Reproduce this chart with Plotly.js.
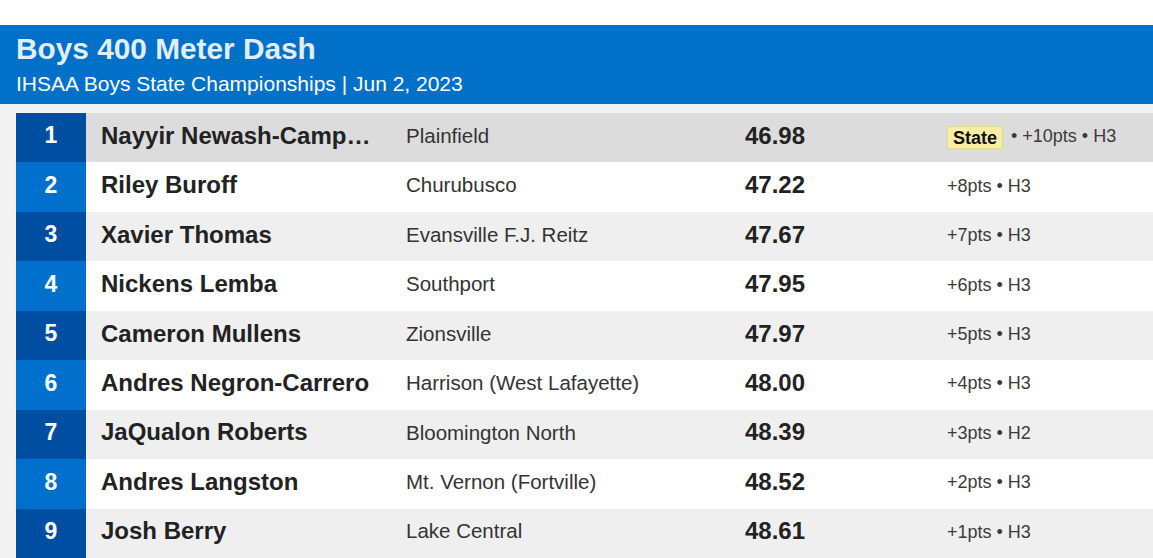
<!DOCTYPE html>
<html>
<head>
<meta charset="utf-8">
<script src="https://cdn.plot.ly/plotly-3.0.1.min.js"></script>
<style>html,body{margin:0;padding:0;background:#f3f3f3;}#chart{width:1153px;height:558px;}</style>
</head>
<body>
<div id="chart"></div>
<script>
// ---- data ----
const ranks = ["1","2","3","4","5","6","7","8","9"];
const athletes = ["Nayyir Newash-Camp…","Riley Buroff","Xavier Thomas","Nickens Lemba","Cameron Mullens","Andres Negron-Carrero","JaQualon Roberts","Andres Langston","Josh Berry"];
const schools = ["Plainfield","Churubusco","Evansville F.J. Reitz","Southport","Zionsville","Harrison (West Lafayette)","Bloomington North","Mt. Vernon (Fortville)","Lake Central"];
const times = ["46.98","47.22","47.67","47.95","47.97","48.00","48.39","48.52","48.61"];
const points = [10,8,7,6,5,4,3,2,1];
const heats = ["H3","H3","H3","H3","H3","H3","H2","H3","H3"];
const badges = ["State","","","","","","","",""];
const titleText = "Boys 400 Meter Dash";
const subtitleText = "IHSAA Boys State Championships | Jun 2, 2023";

// ---- layout constants ----
const W = 1153, H = 558, ML = 16, MT = 113;
const PW = W - ML, PH = H - MT;
const FONT = "Arial, 'Liberation Sans', sans-serif";
const colRankW = 70, colName = 85, colSchool = 390, colTime = 729, colPts = 931, badgeOffset = 64;
const py = Y => (H - Y) / PH;      // pixel row -> paper y
const px = X => (X - ML) / PW;     // pixel col -> paper x

const rowColors = ranks.map((r, i) => i === 0 ? "#dcdcdc" : (i % 2 === 0 ? "#efefef" : "#ffffff"));
const rankColors = ranks.map((r, i) => i % 2 === 0 ? "#004ea1" : "#0070cc");
const ptsText = ranks.map((r, i) => (badges[i] ? "• " : "") + "+" + points[i] + "pts • " + heats[i]);
const ptsX = ranks.map((r, i) => colPts + (badges[i] ? badgeOffset : 0));

const traces = [
  {type:"bar", orientation:"h", y:ranks, x:ranks.map(() => PW), base:0, width:1,
   marker:{color:rowColors, line:{width:0}}, hoverinfo:"skip", showlegend:false},
  {type:"bar", orientation:"h", y:ranks, x:ranks.map(() => colRankW), base:0, width:1,
   marker:{color:rankColors, line:{width:0}}, hoverinfo:"skip", showlegend:false},
  {type:"scatter", mode:"text", y:ranks, x:ranks.map(() => colRankW/2), text:ranks,
   textposition:"middle center", textfont:{family:FONT, size:23, color:"#ffffff", weight:"bold"}, hoverinfo:"skip", showlegend:false},
  {type:"scatter", mode:"text", y:ranks, x:ranks.map(() => colName), text:athletes,
   textposition:"middle right", textfont:{family:FONT, size:24, color:"#222222", weight:"bold"}, hoverinfo:"skip", showlegend:false},
  {type:"scatter", mode:"text", y:ranks, x:ranks.map(() => colSchool), text:schools,
   textposition:"middle right", textfont:{family:FONT, size:20.5, color:"#333333"}, hoverinfo:"skip", showlegend:false},
  {type:"scatter", mode:"text", y:ranks, x:ranks.map(() => colTime), text:times,
   textposition:"middle right", textfont:{family:FONT, size:24, color:"#222222", weight:"bold"}, hoverinfo:"skip", showlegend:false},
  {type:"scatter", mode:"text", y:ranks, x:ptsX, text:ptsText,
   textposition:"middle right", textfont:{family:FONT, size:18, color:"#3a3a3a"}, hoverinfo:"skip", showlegend:false}
];

const badgeAnns = [];
badges.forEach((b, i) => {
  if (b) badgeAnns.push({xref:"x", yref:"y", x:colPts, y:ranks.indexOf(ranks[i]), xanchor:"left", yanchor:"middle",
    text:"<b>" + b + "</b>", showarrow:false, bgcolor:"#f6eea6", bordercolor:"#e3d88a", borderwidth:1,
    borderpad:0, width:54, height:21, font:{family:FONT, size:18, color:"#111111"}});
});

const layout = {
  width:W, height:H,
  margin:{l:ML, r:0, t:MT, b:0, pad:0},
  paper_bgcolor:"#f3f3f3", plot_bgcolor:"#f3f3f3",
  barmode:"overlay", bargap:0,
  xaxis:{range:[0, PW], visible:false, fixedrange:true},
  yaxis:{type:"category", categoryarray:ranks, range:[8.5, -0.5], visible:false, fixedrange:true},
  shapes:[
    {type:"rect", xref:"paper", yref:"paper", x0:px(0), x1:px(W), y0:py(25), y1:py(0), fillcolor:"#ffffff", line:{width:0}, layer:"below"},
    {type:"rect", xref:"paper", yref:"paper", x0:px(0), x1:px(W), y0:py(104), y1:py(25), fillcolor:"#0070c9", line:{width:0}, layer:"below"}
  ],
  annotations:[
    {xref:"paper", yref:"paper", x:px(14), y:py(49), xanchor:"left", yanchor:"middle", showarrow:false,
     text:"<b>" + titleText + "</b>", font:{family:FONT, size:29.8, color:"#e2eefb"}},
    {xref:"paper", yref:"paper", x:px(14), y:py(84), xanchor:"left", yanchor:"middle", showarrow:false,
     text:subtitleText, font:{family:FONT, size:21, color:"#ffffff"}}
  ].concat(badgeAnns),
  showlegend:false
};

Plotly.newPlot("chart", traces, layout, {displayModeBar:false, staticPlot:true});
</script>
</body>
</html>
